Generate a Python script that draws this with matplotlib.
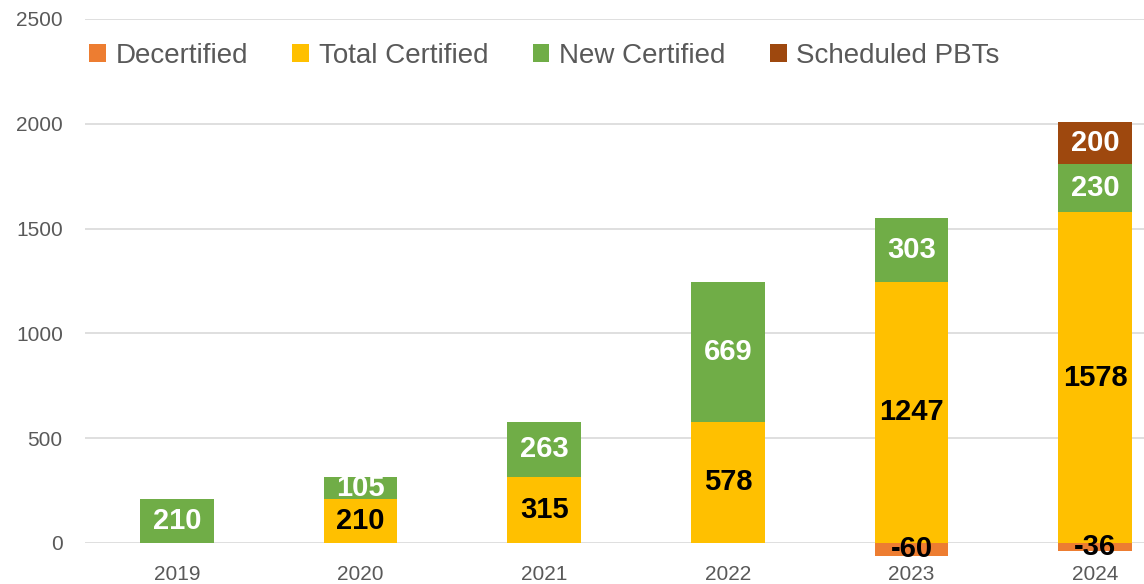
import matplotlib
matplotlib.use("Agg")
import matplotlib.pyplot as plt
import numpy as np

# ── data ─────────────────────────────────────────────
years = ["2019", "2020", "2021", "2022", "2023", "2024"]
decertified = [0, 0, 0, 0, -60, -36]
total_certified = [0, 210, 315, 578, 1247, 1578]
new_certified = [210, 105, 263, 669, 303, 230]
scheduled_pbts = [0, 0, 0, 0, 0, 200]

C_DEC = "#ED7D31"
C_TOT = "#FFC000"
C_NEW = "#70AD47"
C_PBT = "#9E480E"
GREY = "#595959"

plt.rcParams["font.family"] = ["Liberation Sans", "DejaVu Sans"]

fig = plt.figure(figsize=(11.44, 5.84), dpi=100)
ax = fig.add_axes([85 / 1144, 41 / 584, 1 - 85 / 1144, (543 - 19) / 584])

x = np.arange(len(years))
w = 0.4
tot = np.array(total_certified)
new = np.array(new_certified)
pbt = np.array(scheduled_pbts)
dec = np.array(decertified)

b_dec = ax.bar(x, dec, w, color=C_DEC, label="Decertified", clip_on=False, zorder=3)
b_tot = ax.bar(x, tot, w, color=C_TOT, label="Total Certified", zorder=3)
b_new = ax.bar(x, new, w, bottom=tot, color=C_NEW, label="New Certified", zorder=3)
b_pbt = ax.bar(x, pbt, w, bottom=tot + new, color=C_PBT, label="Scheduled PBTs", zorder=3)

# data labels, centred in each segment
def put_labels(vals, bottoms, colour):
    for xi, v, b in zip(x, vals, bottoms):
        if v == 0:
            continue
        ax.text(xi, b + v / 2, f"{v}", ha="center", va="center", fontsize=21,
                fontweight="bold", color=colour, zorder=5, clip_on=False)

put_labels(dec, np.zeros(len(x)), "black")
put_labels(tot, np.zeros(len(x)), "black")
put_labels(new, tot, "white")
put_labels(pbt, tot + new, "white")

ax.set_xlim(-0.5, 5.5 - 43 / 183.5)
ax.set_ylim(0, 2500)
ax.set_yticks(np.arange(0, 2501, 500))
ax.set_xticks(x)
ax.set_xticklabels(years)
ax.yaxis.grid(True, color="#D9D9D9", linewidth=1.2, zorder=0)
ax.set_axisbelow(True)
for s in ax.spines.values():
    s.set_visible(False)
ax.tick_params(axis="both", length=0, labelsize=15, labelcolor=GREY)
ax.tick_params(axis="y", pad=16)
ax.tick_params(axis="x", pad=16)

fig.legend(handles=[b_dec, b_tot, b_new, b_pbt], loc="center left",
           bbox_to_anchor=(89 / 1144, 1 - 56 / 584), ncol=4, frameon=False,
           fontsize=20, labelcolor=GREY, handlelength=0.6, handleheight=0.6,
           handletextpad=0.35, columnspacing=1.6, borderpad=0, borderaxespad=0)

fig.savefig("out.png", dpi=100)
